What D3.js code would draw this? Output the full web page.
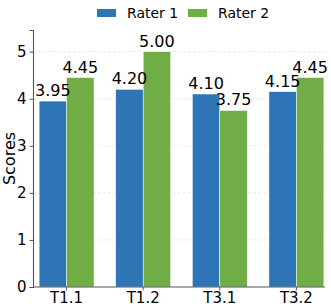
<!DOCTYPE html>
<html>
<head>
<meta charset="utf-8">
<script src="https://cdn.jsdelivr.net/npm/d3@7"></script>
<style>
  body { margin: 0; background: #fff; }
  text { font-family: "DejaVu Sans", sans-serif; fill: #000; }
</style>
</head>
<body>
<svg id="chart" width="331" height="308"></svg>
<script>
const categories = ["T1.1", "T1.2", "T3.1", "T3.2"];
const seriesNames = ["Rater 1", "Rater 2"];
const rater1 = [3.95, 4.20, 4.10, 4.15];
const rater2 = [4.45, 5.00, 3.75, 4.45];
const yTicks = [0, 1, 2, 3, 4, 5];
const colors = ["#2e75b6", "#70ad47"];

const w = 331, h = 308;
const margin = {left: 33, right: 1, top: 30, bottom: 21};

const svg = d3.select("#chart");

const xScale = d3.scaleBand()
                 .domain(categories)
                 .range([margin.left, w - margin.right])
                 .paddingOuter(0.08)
                 .paddingInner(0.283);
const xInner = d3.scaleBand()
                 .domain(seriesNames)
                 .range([0, xScale.bandwidth()]);
const yScale = d3.scaleLinear()
                 .domain([0, 5.46])
                 .range([h - margin.bottom, margin.top]);

// grid
svg.append("g")
   .selectAll("line")
   .data(yTicks.slice(1))
   .enter().append("line")
   .attr("x1", margin.left)
   .attr("x2", 325)
   .attr("y1", d => yScale(d))
   .attr("y2", d => yScale(d))
   .attr("stroke", "#e3e3e3")
   .attr("stroke-width", 0.8)
   .attr("stroke-dasharray", "3,2");

const data = categories.map((c, i) => ({cat: c, vals: [rater1[i], rater2[i]]}));

const groups = svg.selectAll("g.grp")
                  .data(data)
                  .enter().append("g")
                  .attr("class", "grp")
                  .attr("transform", d => `translate(${xScale(d.cat)},0)`);

groups.selectAll("rect")
      .data(d => d.vals.map((v, j) => ({name: seriesNames[j], v: v, j: j})))
      .enter().append("rect")
      .attr("x", d => xInner(d.name))
      .attr("width", xInner.bandwidth())
      .attr("y", d => yScale(d.v))
      .attr("height", d => yScale(0) - yScale(d.v))
      .attr("fill", d => colors[d.j])
      .attr("stroke", "#ffffff")
      .attr("stroke-width", 0.5);

groups.selectAll("text.val")
      .data(d => d.vals.map((v, j) => ({name: seriesNames[j], v: v})))
      .enter().append("text")
      .attr("class", "val")
      .attr("x", d => xInner(d.name) + xInner.bandwidth() / 2)
      .attr("y", d => yScale(d.v) - 5)
      .attr("text-anchor", "middle")
      .style("font-size", "16px")
      .text(d => d.v.toFixed(2));

// axes
const xAxis = d3.axisBottom(xScale).tickSize(3.5).tickPadding(2);
const yAxis = d3.axisLeft(yScale).tickValues(yTicks).tickFormat(d3.format("d")).tickSize(3.5).tickPadding(3);

const gx = svg.append("g")
              .attr("transform", `translate(0, ${h - margin.bottom})`)
              .call(xAxis);
gx.select(".domain").attr("d", `M${margin.left},0H325`);
const gy = svg.append("g")
              .attr("transform", `translate(${margin.left}, 0)`)
              .call(yAxis);

[gx, gy].forEach(g => {
    g.select(".domain").attr("stroke", "#555").attr("stroke-width", 1.1);
    g.selectAll(".tick line").attr("stroke", "#555");
    g.selectAll(".tick text").style("font-size", "15px").attr("fill", "#000")
     .style("font-family", "DejaVu Sans, sans-serif");
});

svg.append("text")
   .attr("text-anchor", "middle")
   .attr("transform", `translate(15, ${(yScale(0) + yScale(5.46)) / 2}) rotate(-90)`)
   .style("font-size", "16px")
   .text("Scores");

// legend
const legend = svg.append("g").attr("transform", "translate(97, 9)");
const items = legend.selectAll("g")
                    .data(seriesNames)
                    .enter().append("g")
                    .attr("transform", (d, i) => `translate(${i * 91}, 0)`);
items.append("rect")
     .attr("width", 19)
     .attr("height", 8)
     .attr("fill", (d, i) => colors[i]);
items.append("text")
     .attr("x", 30)
     .attr("y", 9)
     .style("font-size", "14px")
     .text(d => d);
</script>
</body>
</html>
